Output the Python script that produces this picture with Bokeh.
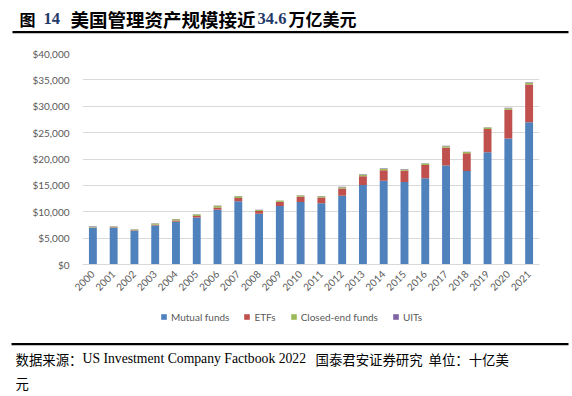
import math
from bokeh.plotting import figure
from bokeh.models import (ColumnDataSource, FixedTicker, NumeralTickFormatter, Range1d,
                          FactorRange, Legend, LegendItem)
from bokeh.layouts import column
from bokeh.embed import file_html
from bokeh.resources import INLINE
from bokeh.core.properties import value

# ---------------- data (US$ billions) ----------------
years = [str(y) for y in range(2000, 2022)]
mutual_funds = [6965, 6975, 6383, 7402, 8095, 8891, 10398, 12000, 9621, 11113, 11831,
                11632, 13054, 15049, 15873, 15650, 16344, 18751, 17707, 21290, 23900, 26955]
etfs = [66, 83, 102, 151, 228, 301, 423, 608, 531, 777, 992,
        1048, 1337, 1675, 1975, 2101, 2524, 3401, 3371, 4396, 5449, 7191]
closed_end = [143, 141, 159, 214, 253, 276, 297, 312, 184, 223, 238,
              243, 264, 279, 289, 261, 262, 276, 250, 278, 279, 309]
uits = [74, 49, 36, 36, 37, 41, 50, 53, 29, 38, 51,
        60, 72, 87, 101, 94, 85, 85, 70, 72, 64, 93]
series = ["Mutual funds", "ETFs", "Closed-end funds", "UITs"]
colors = ["#4F81BD", "#C0504D", "#9BBB59", "#8064A2"]
y_ticks = list(range(0, 40001, 5000))

title_parts = ["图", "14", "美国管理资产规模接近", "34.6", "万亿美元"]
source_parts = ["数据来源：", "US Investment Company Factbook 2022", "国泰君安证券研究", "单位：十亿美", "元"]

W = 572
CJK = "Noto Sans CJK SC"
SERIF = "Liberation Serif"
TICK_FONT = "Lato"
GREY = "#595959"


def strip(height):
    f = figure(width=W, height=height, x_range=Range1d(0, W), y_range=Range1d(0, height),
               x_axis_type=None, y_axis_type=None, output_backend="svg",
               toolbar_location=None, min_border=0)
    f.frame_align = False
    f.grid.visible = False
    f.outline_line_color = None
    return f


# ---------------- title strip (page y 0..38) ----------------
TH = 38
top = strip(TH)
tx = [19, 43, 70, 257, 288]
tsize = ["16px", "16.5px", "18.5px", "16.5px", "17px"]
for i, t in enumerate(title_parts):
    is_num = i in (1, 3)
    top.text(x=[tx[i]], y=[TH - 18], text=[t],
             text_font=value(SERIF if is_num else CJK),
             text_font_style="bold", text_font_size=tsize[i],
             text_baseline="middle", text_align="left",
             text_color="#1F3A68" if is_num else "black")
top.segment(x0=[12], y0=[TH - 31.7], x1=[568], y1=[TH - 31.7], line_width=2.2,
            line_color="black")

# ---------------- main chart (page y 38..302) ----------------
source = ColumnDataSource(dict(year=years, **{series[0]: mutual_funds, series[1]: etfs,
                                               series[2]: closed_end, series[3]: uits}))
MH = 264
p = figure(width=W, height=MH, x_range=FactorRange(factors=years), y_range=Range1d(0, 40000),
           output_backend="svg", toolbar_location=None,
           min_border_left=82, min_border_right=33, min_border_top=15, min_border_bottom=38)
p.frame_align = False
p.vbar_stack(series, x="year", width=0.38, color=colors, source=source, line_color=None)
p.outline_line_color = None
p.xgrid.grid_line_color = None
p.ygrid.ticker = FixedTicker(ticks=y_ticks)
p.ygrid.grid_line_color = "#d9d9d9"
p.ygrid.grid_line_width = 1

p.yaxis.ticker = FixedTicker(ticks=y_ticks)
p.yaxis.formatter = NumeralTickFormatter(format="$0,0")
p.yaxis.axis_line_color = None
p.yaxis.major_tick_line_color = None
p.yaxis.major_tick_out = 0
p.yaxis.minor_tick_line_color = None
p.yaxis.major_label_standoff = 13
p.yaxis.major_label_text_font = TICK_FONT
p.yaxis.major_label_text_font_size = "10px"
p.yaxis.major_label_text_color = GREY

p.xaxis.axis_line_color = "#d9d9d9"
p.xaxis.major_tick_line_color = None
p.xaxis.major_tick_out = 0
p.xaxis.major_label_orientation = math.pi / 4
p.xaxis.major_label_standoff = 8
p.xaxis.major_label_text_font = TICK_FONT
p.xaxis.major_label_text_font_size = "10px"
p.xaxis.major_label_text_color = GREY

# ---------------- legend + source strip (page y 302..396) ----------------
FH = 94
PY0 = 302  # page y of this strip's top edge
foot = strip(FH)


def fy_of(page_y):
    return PY0 + FH - page_y


# zero-size swatch renderers that only carry the legend colours
swatches = [foot.vbar(x=[0], top=[0], bottom=[0], width=0, color=c, line_color=None)
            for c in colors]
legend = Legend(items=[LegendItem(label=s, renderers=[r]) for s, r in zip(series, swatches)],
                orientation="horizontal", location=(160, fy_of(322.7)),
                border_line_color=None, background_fill_alpha=0,
                padding=0, margin=0, spacing=14, glyph_width=7, glyph_height=7,
                label_standoff=4, label_height=12, label_text_font=TICK_FONT,
                label_text_font_size="10px", label_text_color=GREY)
foot.add_layout(legend, "center")

foot.segment(x0=[11], y0=[fy_of(343.7)], x1=[568], y1=[fy_of(343.7)],
             line_width=2.2, line_color="black")
fx = [15, 82, 315, 428, 15]
fy = [fy_of(358)] * 4 + [fy_of(382)]
for i, t in enumerate(source_parts):
    foot.text(x=[fx[i]], y=[fy[i]], text=[t],
              text_font=value(SERIF if i == 1 else CJK),
              text_font_size="13.7px" if i == 1 else "13.4px",
              text_baseline="middle", text_align="left", text_color="black")

layout = column(top, p, foot, spacing=0)
open("out.html", "w").write(file_html(layout, INLINE))
